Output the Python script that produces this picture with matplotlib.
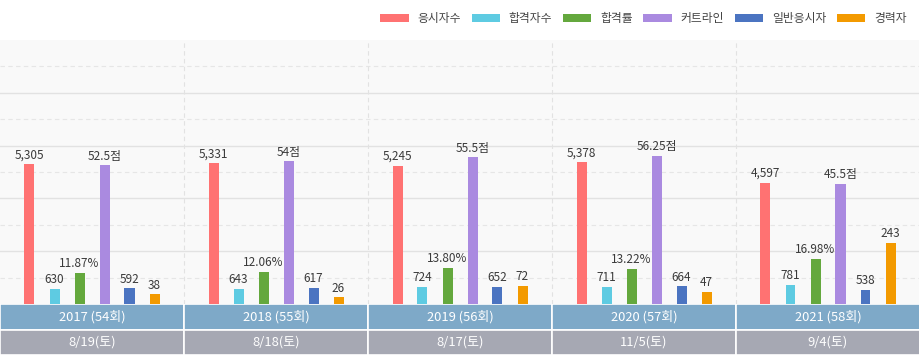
import numpy as np
import matplotlib.pyplot as plt
from matplotlib.patches import Rectangle

plt.rcParams['font.family'] = ['Noto Sans CJK KR', 'DejaVu Sans']

years = ['2017 (54회)', '2018 (55회)', '2019 (56회)', '2020 (57회)', '2021 (58회)']
dates = ['8/19(토)', '8/18(토)', '8/17(토)', '11/5(토)', '9/4(토)']

series_names = ['응시자수', '합격자수', '합격률', '커트라인', '일반응시자', '경력자']
applicants = [5305, 5331, 5245, 5378, 4597]
passers = [630, 643, 724, 711, 781]
pass_rate = [11.87, 12.06, 13.80, 13.22, 16.98]
cutline = [52.5, 54, 55.5, 56.25, 45.5]
general = [592, 617, 652, 664, 538]
career = [38, 26, 72, 47, 243]

# each series is drawn on its own scale (value / divisor)
divisors = [1000, 1100, 10, 10, 1000, 105]
label_fmt = ['{:,}', '{:,}', '{:.2f}%', '{:g}점', '{:,}', '{:,}']
colors = ['#ff7272', '#5ecbe2', '#64a83d', '#aa8ae0', '#4b74c1', '#f39a00']

series = [applicants, passers, pass_rate, cutline, general, career]

fig = plt.figure(figsize=(9.2, 3.55), dpi=100)
W, H = 920, 355
ax = fig.add_axes([0, (H - 304) / H, 1, 264 / H])
ax.set_facecolor('#f9f9f9')
ax.set_xlim(0, 5)
ax.set_ylim(0, 10)

for y in range(1, 10):
    if y % 2 == 0:
        ax.axhline(y, color='#e2e2e2', lw=1, zorder=0)
    else:
        ax.axhline(y, color='#e6e6e6', lw=0.8, ls=(0, (4, 3)), zorder=0)
for x in range(1, 5):
    ax.axvline(x, color='#e2e2e2', lw=0.8, ls=(0, (4, 3)), zorder=0)

step = 25 / 184
width = 10 / 184
n = len(years)
for k, (vals, div, fmt, col, name) in enumerate(zip(series, divisors, label_fmt, colors, series_names)):
    xs = np.arange(n) + 0.5 + (k - 2.5) * step
    hs = np.array(vals) / div
    ax.bar(xs, hs, width=width, color=col, label=name, zorder=2)
    for x, h, v in zip(xs, hs, vals):
        ax.annotate(fmt.format(v), (x, h), xytext=(0, 2), textcoords='offset points',
                    ha='center', va='bottom', fontsize=8.5, color='#3a3a3a')

for s in ax.spines.values():
    s.set_visible(False)
ax.set_xticks([])
ax.set_yticks([])

leg = fig.legend(loc='upper right', bbox_to_anchor=(0.997, 0.995), ncol=6, frameon=False,
                 fontsize=8.5, handlelength=2.4, handleheight=0.7, handletextpad=0.75,
                 columnspacing=0.9)
for t in leg.get_texts():
    t.set_color('#444444')

# category band below the plot
bx = fig.add_axes([0, 0, 1, 51 / H])
bx.set_xlim(0, 5)
bx.set_ylim(0, 2)
bx.axis('off')
for i in range(n):
    bx.add_patch(Rectangle((i, 1), 1, 1, facecolor='#7ea9c8', edgecolor='white', lw=1.2))
    bx.add_patch(Rectangle((i, 0), 1, 1, facecolor='#a6a8b3', edgecolor='white', lw=1.2))
    bx.text(i + 0.5, 1.5, years[i], ha='center', va='center', fontsize=9.3, color='white')
    bx.text(i + 0.5, 0.5, dates[i], ha='center', va='center', fontsize=9.3, color='white')

fig.savefig('out.png', dpi=100)
